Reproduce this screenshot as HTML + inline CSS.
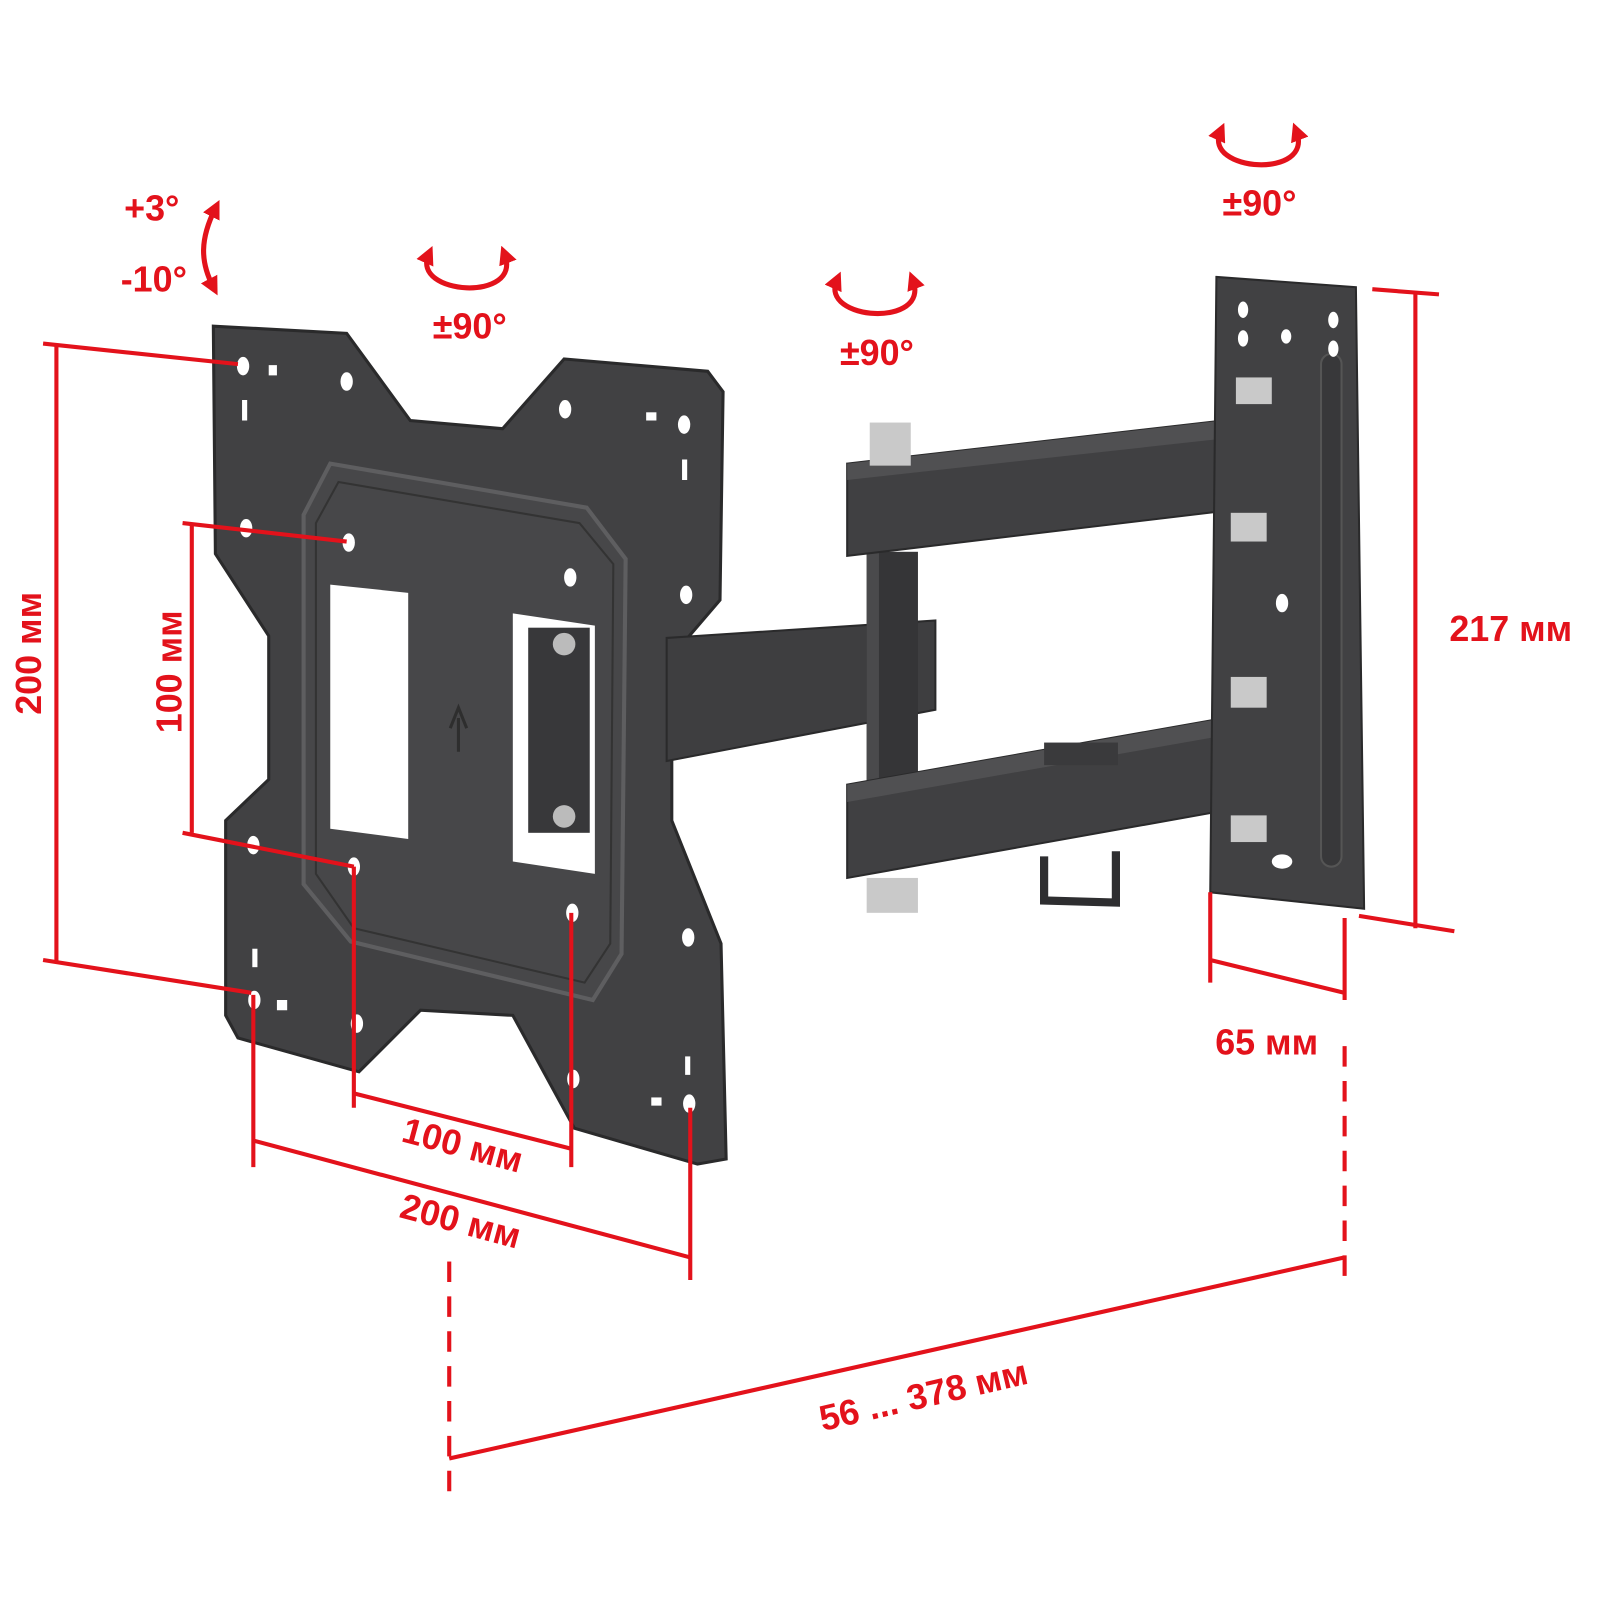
<!DOCTYPE html>
<html><head><meta charset="utf-8"><style>
html,body{margin:0;padding:0;background:#fff}
svg{display:block}
.t{font-family:"Liberation Sans","DejaVu Sans",sans-serif;font-weight:bold;fill:#e3121b;font-size:35px}
</style></head><body>
<svg width="1600" height="1600" viewBox="0 0 1560 1560" xmlns="http://www.w3.org/2000/svg">
<defs>
<marker id="ah" viewBox="0 0 10 10" refX="5" refY="5" markerWidth="3.6" markerHeight="3.6" orient="auto-start-reverse"><path d="M0,0 L10,5 L0,10 z" fill="#e3121b"/></marker>
</defs>
<!-- VESA plate -->
<polygon points="208,318 338,325 400,410 490,418 550,350 690,362 705,382 702,585 655,640 655,800 703,920 708,1130 680,1135 560,1100 500,990 410,985 350,1045 232,1012 220,990 220,800 262,760 262,620 210,540" fill="#414143" stroke="#2a2a2b" stroke-width="3"/>
<polygon points="322,452 572,495 610,545 606,930 578,975 342,918 296,862 296,502" fill="#474749" stroke="#5e5e60" stroke-width="4"/>
<polygon points="330,470 565,510 598,550 595,920 570,958 345,905 308,852 308,510" fill="none" stroke="#333" stroke-width="2"/>
<polygon points="322,570 398,578 398,818 322,808" fill="#fff"/>
<polygon points="500,598 580,610 580,852 500,840" fill="#fff"/>
<rect x="515" y="612" width="60" height="200" fill="#38383a"/>
<circle cx="550" cy="628" r="11" fill="#bbb"/><circle cx="550" cy="796" r="11" fill="#bbb"/>
<path d="M447,733 L447,700 M439,710 L447,690 L455,710" stroke="#2e2e2e" stroke-width="3" fill="none"/>
<g fill="#fff">
<ellipse cx="237" cy="357" rx="6" ry="9"/><ellipse cx="338" cy="372" rx="6" ry="9"/>
<ellipse cx="551" cy="399" rx="6" ry="9"/><ellipse cx="667" cy="414" rx="6" ry="9"/>
<ellipse cx="240" cy="515" rx="6" ry="9"/><ellipse cx="340" cy="529" rx="6" ry="9"/>
<ellipse cx="556" cy="563" rx="6" ry="9"/><ellipse cx="669" cy="580" rx="6" ry="9"/>
<ellipse cx="247" cy="824" rx="6" ry="9"/><ellipse cx="345" cy="845" rx="6" ry="9"/>
<ellipse cx="558" cy="890" rx="6" ry="9"/><ellipse cx="671" cy="914" rx="6" ry="9"/>
<ellipse cx="248" cy="975" rx="6" ry="9"/><ellipse cx="348" cy="998" rx="6" ry="9"/>
<ellipse cx="559" cy="1052" rx="6" ry="9"/><ellipse cx="672" cy="1076" rx="6" ry="9"/>
<rect x="262" y="356" width="8" height="10"/><rect x="236" y="390" width="5" height="20"/><rect x="630" y="402" width="10" height="8"/><rect x="665" y="448" width="5" height="20"/>
<rect x="270" y="975" width="10" height="10"/><rect x="246" y="925" width="5" height="18"/><rect x="635" y="1070" width="10" height="8"/><rect x="668" y="1030" width="5" height="18"/>
</g>
<polygon points="650,622 912,605 912,692 650,742" fill="#3e3e40" stroke="#2a2a2b" stroke-width="2"/>
<rect x="845" y="538" width="50" height="232" fill="#353537"/>
<rect x="845" y="538" width="12" height="232" fill="#4a4a4c"/>
<polygon points="826,452 1262,402 1262,490 826,542" fill="#404042" stroke="#2a2a2b" stroke-width="2"/>
<polygon points="826,452 1262,402 1262,420 826,468" fill="#505052"/>
<rect x="848" y="412" width="40" height="42" fill="#c9c9c9"/>
<polygon points="826,765 1262,688 1262,778 826,856" fill="#404042" stroke="#2a2a2b" stroke-width="2"/>
<polygon points="826,765 1262,688 1262,705 826,782" fill="#505052"/>
<rect x="1018" y="724" width="72" height="22" fill="#3a3a3c"/>
<path d="M1018,835 L1018,878 L1088,880 L1088,830" stroke="#2e2e30" stroke-width="8" fill="none"/>
<rect x="845" y="856" width="50" height="34" fill="#c9c9c9"/>
<polygon points="1186,270 1322,280 1330,886 1180,870" fill="#414143" stroke="#2a2a2b" stroke-width="2"/>
<rect x="1288" y="345" width="20" height="500" rx="10" fill="#38383a" stroke="#555" stroke-width="2"/>
<g fill="#fff"><ellipse cx="1212" cy="302" rx="5" ry="8"/><ellipse cx="1300" cy="312" rx="5" ry="8"/><ellipse cx="1254" cy="328" rx="5" ry="7"/><ellipse cx="1212" cy="330" rx="5" ry="8"/><ellipse cx="1300" cy="340" rx="5" ry="8"/><ellipse cx="1250" cy="588" rx="6" ry="9"/><ellipse cx="1250" cy="840" rx="10" ry="7"/></g>
<rect x="1205" y="368" width="35" height="26" fill="#c9c9c9"/>
<rect x="1200" y="500" width="35" height="28" fill="#c9c9c9"/>
<rect x="1200" y="660" width="35" height="30" fill="#c9c9c9"/>
<rect x="1200" y="795" width="35" height="26" fill="#c9c9c9"/>
<g stroke="#e3121b" stroke-width="4" fill="none">
<line x1="55" y1="337" x2="55" y2="938"/><line x1="42" y1="335" x2="232" y2="355"/><line x1="42" y1="936" x2="245" y2="968"/>
<line x1="187" y1="510" x2="187" y2="812"/><line x1="178" y1="510" x2="338" y2="528"/><line x1="178" y1="812" x2="345" y2="845"/>
<line x1="345" y1="845" x2="345" y2="1080"/><line x1="557" y1="890" x2="557" y2="1138"/><line x1="345" y1="1066" x2="557" y2="1120"/>
<line x1="247" y1="970" x2="247" y2="1138"/><line x1="673" y1="1080" x2="673" y2="1248"/><line x1="247" y1="1112" x2="673" y2="1226"/>
<line x1="438" y1="1230" x2="438" y2="1465" stroke-dasharray="20,14"/><line x1="1311" y1="1020" x2="1311" y2="1258" stroke-dasharray="20,14"/>
<line x1="438" y1="1422" x2="1311" y2="1226"/>
<line x1="1180" y1="870" x2="1180" y2="958"/><line x1="1311" y1="895" x2="1311" y2="975"/><line x1="1180" y1="936" x2="1311" y2="968"/>
<line x1="1380" y1="285" x2="1380" y2="905"/><line x1="1338" y1="282" x2="1403" y2="287"/><line x1="1325" y1="893" x2="1418" y2="908"/>
<g stroke-width="5">
<path d="M418,248 C400,288 510,295 492,248" marker-start="url(#ah)" marker-end="url(#ah)"/>
<path d="M816,273 C798,313 908,320 890,273" marker-start="url(#ah)" marker-end="url(#ah)"/>
<path d="M1190,128 C1172,168 1282,175 1264,128" marker-start="url(#ah)" marker-end="url(#ah)"/>
<path d="M210,203 C195,233 195,255 208,280" marker-start="url(#ah)" marker-end="url(#ah)"/>
</g>
</g>
<text class="t" x="148" y="215" text-anchor="middle">+3°</text>
<text class="t" x="150" y="284" text-anchor="middle">-10°</text>
<text class="t" x="458" y="330" text-anchor="middle">±90°</text>
<text class="t" x="855" y="356" text-anchor="middle">±90°</text>
<text class="t" x="1228" y="210" text-anchor="middle">±90°</text>
<text class="t" x="1473" y="625" text-anchor="middle">217 мм</text>
<text class="t" x="1235" y="1028" text-anchor="middle">65 мм</text>
<text class="t" transform="translate(40,637) rotate(-90)" text-anchor="middle">200 мм</text>
<text class="t" transform="translate(177,655) rotate(-90)" text-anchor="middle">100 мм</text>
<text class="t" transform="translate(448,1128) rotate(15)" text-anchor="middle">100 мм</text>
<text class="t" transform="translate(446,1202) rotate(15)" text-anchor="middle">200 мм</text>
<text class="t" transform="translate(903,1372) rotate(-13)" text-anchor="middle">56 ... 378 мм</text>
</svg>
</body></html>
